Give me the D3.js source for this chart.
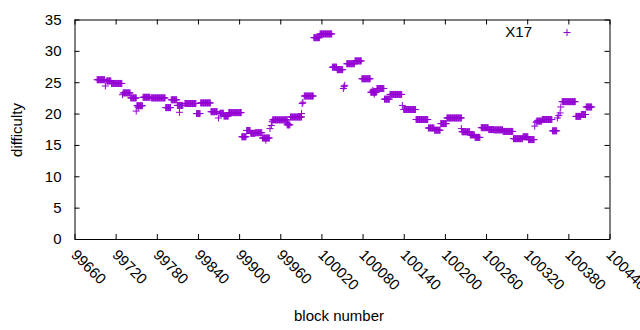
<!DOCTYPE html>
<html>
<head>
<meta charset="utf-8">
<script src="https://cdn.jsdelivr.net/npm/d3@7/dist/d3.min.js"></script>
<style>
  body { margin: 0; background: #fff; }
  text { font-family: "Liberation Sans", Arial, sans-serif; }
</style>
</head>
<body>
<div id="chart"></div>
<script>
// runs of consecutive blocks sharing (about) the same difficulty
const runFrom = [99693, 99707, 99714, 99731, 99742, 99751, 99760, 99772, 99793, 99801,
  99810, 99821, 99838, 99844, 99859, 99872, 99878, 99885, 99904, 99911,
  99917, 99924, 99934, 99949, 99970, 99975, 99995, 100009, 100018, 100036,
  100043, 100057, 100069, 100079, 100092, 100101, 100112, 100120, 100140, 100158,
  100176, 100185, 100194, 100203, 100225, 100237, 100244, 100253, 100264, 100272,
  100285, 100300, 100314, 100322, 100334, 100342, 100357, 100371, 100391, 100399,
  100406];
const runTo = [99704, 99713, 99729, 99741, 99750, 99759, 99770, 99792, 99800, 99809,
  99818, 99837, 99843, 99858, 99868, 99877, 99884, 99903, 99910, 99916,
  99923, 99933, 99944, 99970, 99974, 99991, 100008, 100017, 100035, 100042,
  100051, 100068, 100078, 100091, 100100, 100111, 100119, 100137, 100157, 100175,
  100184, 100193, 100202, 100224, 100236, 100243, 100251, 100263, 100271, 100284,
  100299, 100313, 100321, 100330, 100341, 100356, 100363, 100390, 100398, 100405,
  100414];
const runDiff = [25.4, 25.2, 24.8, 23.3, 22.5, 21.25, 22.6, 22.5, 20.95, 22.2,
  21.3, 21.6, 20.0, 21.7, 20.3, 20.05, 19.6, 20.15, 16.3, 17.3,
  16.85, 16.95, 16.1, 19.0, 18.2, 19.45, 22.8, 32.1, 32.7, 27.4,
  27.0, 27.95, 28.4, 25.55, 23.4, 24.0, 22.3, 23.05, 20.65, 19.05,
  17.7, 17.35, 18.4, 19.3, 17.1, 16.6, 16.2, 17.75, 17.45, 17.4,
  17.15, 16.0, 16.3, 15.85, 18.8, 19.05, 17.25, 21.9, 19.55, 19.85,
  21.05];

// isolated blocks
const singleBlock = [99705, 99730, 99750, 99753, 99813, 99870, 99939, 99945, 99947, 99948,
  99971, 99991, 99992, 99993, 100052, 100053, 100054, 100095, 100097, 100138,
  100224, 100331, 100333, 100364, 100366, 100368, 100369];
const singleDiff = [24.4, 23.0, 20.4, 21.0, 20.2, 19.3, 15.75, 17.6, 18.1, 18.7,
  18.4, 20.0, 21.6, 21.8, 24.0, 24.3, 24.5, 23.7, 23.1, 21.3,
  17.6, 18.0, 18.6, 19.3, 19.7, 20.1, 21.05];

const xTicks = d3.range(99660, 100441, 60);
const yTicks = [0, 5, 10, 15, 20, 25, 30, 35];
const seriesName = "X17";

// one point per block
const points = [];
runFrom.forEach((f, i) => {
  for (let b = f; b <= runTo[i]; b++) points.push({block: b, diff: runDiff[i]});
});
singleBlock.forEach((b, i) => points.push({block: b, diff: singleDiff[i]}));

const width = 640, height = 330;
const margin = {top: 19.5, right: 30.5, bottom: 91, left: 74.5};
const color = "#9400d3";

const svg = d3.select("#chart").append("svg")
    .attr("width", width)
    .attr("height", height);

const x = d3.scaleLinear()
    .domain([99660, 100440])
    .range([margin.left, width - margin.right]);
const y = d3.scaleLinear()
    .domain([0, 35])
    .range([height - margin.bottom, margin.top]);

const plus = "M-3.5,0H3.5M0,-3.5V3.5";

svg.append("g")
  .selectAll("path")
  .data(points)
  .join("path")
    .attr("transform", d => `translate(${x(d.block)},${y(d.diff)})`)
    .attr("d", plus)
    .attr("stroke", color)
    .attr("stroke-width", 1)
    .attr("fill", "none");

// axes, ticks pointing in, mirrored on top and right
const xb = svg.append("g")
    .attr("transform", `translate(0,${height - margin.bottom})`)
    .call(d3.axisBottom(x).tickValues(xTicks).tickSize(-5).tickSizeOuter(0).tickFormat(d3.format("d")));
xb.selectAll("text")
    .attr("text-anchor", "start")
    .attr("y", 0)
    .attr("dy", "0.35em")
    .attr("transform", d => `translate(-1,13) rotate(45)`);

svg.append("g")
    .attr("transform", `translate(0,${margin.top})`)
    .call(d3.axisTop(x).tickValues(xTicks).tickSize(-5).tickSizeOuter(0).tickFormat(""));

svg.append("g")
    .attr("transform", `translate(${margin.left},0)`)
    .call(d3.axisLeft(y).tickValues(yTicks).tickSize(-5).tickSizeOuter(0).tickPadding(13));

svg.append("g")
    .attr("transform", `translate(${width - margin.right},0)`)
    .call(d3.axisRight(y).tickValues(yTicks).tickSize(-5).tickSizeOuter(0).tickFormat(""));

svg.selectAll(".tick text")
    .attr("font-size", 15)
    .attr("font-family", "Liberation Sans, Arial, sans-serif")
    .attr("fill", "#000");
svg.selectAll(".domain, .tick line").attr("stroke", "#000");

// axis titles
svg.append("text")
    .attr("x", 339)
    .attr("y", 321)
    .attr("text-anchor", "middle")
    .attr("font-size", 15)
    .text("block number");

svg.append("text")
    .attr("transform", "translate(22,130) rotate(-90)")
    .attr("text-anchor", "middle")
    .attr("font-size", 15)
    .text("difficulty");

// legend
svg.append("text")
    .attr("x", 532)
    .attr("y", 32)
    .attr("dy", "0.35em")
    .attr("text-anchor", "end")
    .attr("font-size", 15)
    .text(seriesName);
svg.append("path")
    .attr("transform", "translate(567,32.5)")
    .attr("d", plus)
    .attr("stroke", color)
    .attr("fill", "none");
</script>
</body>
</html>
